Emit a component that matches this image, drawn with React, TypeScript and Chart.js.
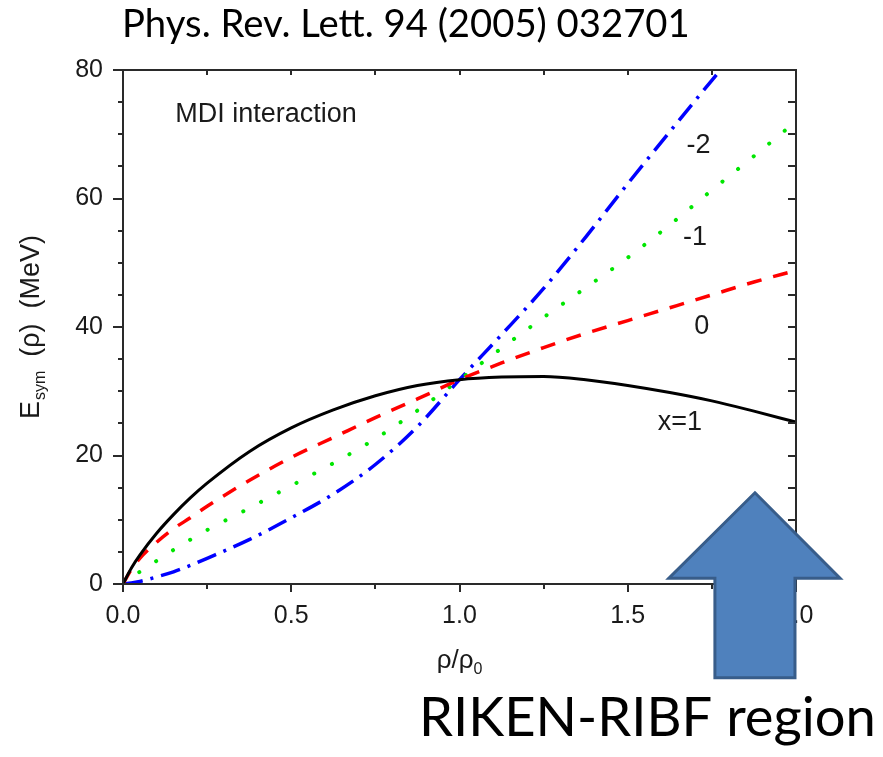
import React, { useEffect, useRef } from "react";
import { Chart, registerables } from "chart.js";

Chart.register(...registerables);

// density rho/rho0
const rho = [0, 0.025, 0.05, 0.1, 0.15, 0.2, 0.25, 0.375, 0.5, 0.625, 0.75, 0.875, 1.0, 1.125, 1.25, 1.375, 1.5, 1.625, 1.75, 1.875, 2.0];
// Esym (MeV) for x = 1, 0, -1, -2
const esymX1 = [0, 2.5, 4.5, 7.9, 10.8, 13.4, 15.7, 20.6, 24.3, 27.1, 29.3, 30.9, 31.8, 32.2, 32.3, 31.8, 30.9, 29.8, 28.5, 26.9, 25.2];
const esymX0 = [0, 2.3, 4.0, 6.5, 8.6, 10.3, 12.1, 16.1, 19.7, 22.8, 25.9, 28.8, 31.8, 34.4, 36.8, 39.0, 41.0, 43.0, 45.0, 47.0, 48.8];
const esymXm1 = [0, 1.0, 1.9, 3.6, 5.3, 6.9, 8.4, 11.8, 15.3, 18.8, 22.6, 27.0, 31.8, 36.7, 41.5, 46.1, 50.8, 55.9, 61.3, 66.6, 72.0];
const esymXm2 = [0, 0.15, 0.4, 1.1, 1.9, 2.9, 4.0, 6.9, 10.3, 14.0, 18.6, 24.5, 31.8, 38.8, 46.0, 54.0, 62.3, 70.4, 78.4, 86.3, 94.0];

const xTickStep = 0.5;
const xMinorStep = 0.25;
const yTickStep = 20;
const yMinorStep = 5;

const curveLabels = [
  { text: "-2", x: 1.71, y: 68.2 },
  { text: "-1", x: 1.70, y: 54.0 },
  { text: "0", x: 1.72, y: 40.0 },
  { text: "x=1", x: 1.655, y: 25.2 },
];
const innerTitle = { text: "MDI interaction", x: 0.155, y: 73.0 };
const topTitle = "Phys. Rev. Lett. 94 (2005) 032701";
const bottomNote = "RIKEN-RIBF region";

// arrow annotation in data units
const arrowTip = { x: 1.878, y: 14.2 };
const arrowHeadY = 0.9;
const arrowHeadLeft = 1.622;
const arrowHeadRight = 2.131;
const arrowShaftLeft = 1.759;
const arrowShaftRight = 1.997;
const arrowBottom = -14.6;

const FONT = "'Liberation Sans', Arial, sans-serif";

const pts = (ys: number[]) => rho.map((r, i) => ({ x: r, y: ys[i] }));

const decorPlugin = {
  id: "decor",
  afterDraw(chart: any) {
    const ctx = chart.ctx as CanvasRenderingContext2D;
    const xs = chart.scales.x;
    const ys = chart.scales.y;
    const { left, right, top, bottom } = chart.chartArea;
    ctx.save();
    // frame
    ctx.strokeStyle = "#2a2a2a";
    ctx.lineWidth = 2;
    ctx.strokeRect(left, top, right - left, bottom - top);
    for (let v = xs.min; v <= xs.max + 1e-9; v += xMinorStep) {
      const px = Math.round(xs.getPixelForValue(v));
      const major = Math.abs(v / xTickStep - Math.round(v / xTickStep)) < 1e-6;
      ctx.beginPath();
      ctx.moveTo(px, bottom);
      ctx.lineTo(px, bottom + (major ? 8 : 5));
      ctx.moveTo(px, top);
      ctx.lineTo(px, top + 5);
      ctx.stroke();
    }
    for (let v = ys.min; v <= ys.max + 1e-9; v += yMinorStep) {
      const py = Math.round(ys.getPixelForValue(v));
      const major = Math.abs(v / yTickStep - Math.round(v / yTickStep)) < 1e-6;
      ctx.beginPath();
      ctx.moveTo(left, py);
      ctx.lineTo(left - (major ? 10 : 5), py);
      ctx.moveTo(right, py);
      ctx.lineTo(right - 8, py);
      ctx.stroke();
    }
    // annotations
    ctx.fillStyle = "#1a1a1a";
    ctx.textBaseline = "middle";
    ctx.textAlign = "left";
    ctx.font = `27px ${FONT}`;
    ctx.fillText(innerTitle.text, xs.getPixelForValue(innerTitle.x), ys.getPixelForValue(innerTitle.y));
    ctx.textAlign = "center";
    for (const l of curveLabels) {
      ctx.fillText(l.text, xs.getPixelForValue(l.x), ys.getPixelForValue(l.y));
    }
    // x title rho/rho0
    {
      const cx = (left + right) / 2;
      const cy = bottom + 84;
      ctx.font = `26px ${FONT}`;
      const main = "ρ/ρ";
      const wMain = ctx.measureText(main).width;
      ctx.font = `16px ${FONT}`;
      const wSub = ctx.measureText("0").width;
      const x0 = cx - (wMain + wSub) / 2;
      ctx.textAlign = "left";
      ctx.textBaseline = "alphabetic";
      ctx.font = `26px ${FONT}`;
      ctx.fillText(main, x0, cy);
      ctx.font = `16px ${FONT}`;
      ctx.fillText("0", x0 + wMain, cy + 6);
    }
    // y title Esym(rho) (MeV)
    {
      ctx.save();
      ctx.translate(39, (top + bottom) / 2);
      ctx.rotate(-Math.PI / 2);
      ctx.textAlign = "left";
      ctx.textBaseline = "alphabetic";
      ctx.font = `27px ${FONT}`;
      const wE = ctx.measureText("E").width;
      const rest = "  (ρ)  (MeV)";
      const wR = ctx.measureText(rest).width;
      ctx.font = `16px ${FONT}`;
      const wS = ctx.measureText("sym").width;
      const total = wE + wS + wR;
      let x = -total / 2;
      ctx.font = `27px ${FONT}`;
      ctx.fillText("E", x, 0);
      x += wE;
      ctx.font = `16px ${FONT}`;
      ctx.fillText("sym", x + 1, 6);
      x += wS;
      ctx.font = `27px ${FONT}`;
      ctx.fillText(rest, x, 0);
      ctx.restore();
    }
    const fitText = (text: string, family: string, x0: number, x1: number, baseline: number) => {
      ctx.font = `100px ${family}`;
      const w = ctx.measureText(text).width;
      const size = (100 * (x1 - x0)) / w;
      ctx.font = `${size}px ${family}`;
      ctx.textAlign = "left";
      ctx.textBaseline = "alphabetic";
      ctx.fillStyle = "#000";
      ctx.fillText(text, x0, baseline);
    };
    fitText(topTitle, "Lato, 'Open Sans', sans-serif", 122, 690, 37);
    // arrow
    const X = (v: number) => xs.getPixelForValue(v);
    const Y = (v: number) => ys.getPixelForValue(v);
    ctx.beginPath();
    ctx.moveTo(X(arrowTip.x), Y(arrowTip.y));
    ctx.lineTo(X(arrowHeadRight), Y(arrowHeadY));
    ctx.lineTo(X(arrowShaftRight), Y(arrowHeadY));
    ctx.lineTo(X(arrowShaftRight), Y(arrowBottom));
    ctx.lineTo(X(arrowShaftLeft), Y(arrowBottom));
    ctx.lineTo(X(arrowShaftLeft), Y(arrowHeadY));
    ctx.lineTo(X(arrowHeadLeft), Y(arrowHeadY));
    ctx.closePath();
    ctx.fillStyle = "#4F81BD";
    ctx.fill();
    ctx.lineWidth = 3;
    ctx.lineJoin = "miter";
    ctx.strokeStyle = "#385D8A";
    ctx.stroke();
    fitText(bottomNote, "Lato, 'Open Sans', sans-serif", 419, 876, 736);
    ctx.restore();
  },
};

export default function App() {
  const ref = useRef<HTMLCanvasElement | null>(null);
  useEffect(() => {
    if (!ref.current) return;
    const common = { cubicInterpolationMode: "monotone", pointRadius: 0, fill: false };
    const chart = new Chart(ref.current, {
      type: "line",
      data: {
        datasets: [
          { ...common, data: pts(esymX1), borderColor: "#000000", borderWidth: 3 },
          { ...common, data: pts(esymX0), borderColor: "#ff0000", borderWidth: 3.5, borderDash: [15, 12] },
          { ...common, data: pts(esymXm1), borderColor: "#00e600", borderWidth: 4, borderDash: [0.1, 20], borderCapStyle: "round" },
          { ...common, data: pts(esymXm2), borderColor: "#0000ff", borderWidth: 3.5, borderDash: [20, 8, 3, 8] },
        ] as any,
      },
      options: {
        responsive: false,
        animation: false,
        events: [],
        layout: { padding: { left: 0, top: 70, right: 87, bottom: 0 } },
        plugins: { legend: { display: false }, tooltip: { enabled: false }, title: { display: false } },
        scales: {
          x: {
            type: "linear",
            min: 0,
            max: 2,
            grid: { display: false, drawTicks: false },
            border: { display: false },
            ticks: {
              stepSize: xTickStep,
              padding: 17,
              color: "#1a1a1a",
              font: { family: FONT, size: 25 },
              callback: (v: any) => Number(v).toFixed(1),
            },
            afterFit: (s: any) => { s.height = 173; },
          },
          y: {
            type: "linear",
            min: 0,
            max: 80,
            grid: { display: false, drawTicks: false },
            border: { display: false },
            ticks: {
              stepSize: yTickStep,
              padding: 20,
              color: "#1a1a1a",
              font: { family: FONT, size: 25 },
            },
            afterFit: (s: any) => { s.width = 123; },
          },
        },
      },
      plugins: [decorPlugin],
    });
    return () => chart.destroy();
  }, []);
  return (
    <div style={{ position: "absolute", left: 0, top: 0, width: 883, height: 757, background: "#fff" }}>
      <canvas ref={ref} width={883} height={757} style={{ display: "block" }} />
    </div>
  );
}
